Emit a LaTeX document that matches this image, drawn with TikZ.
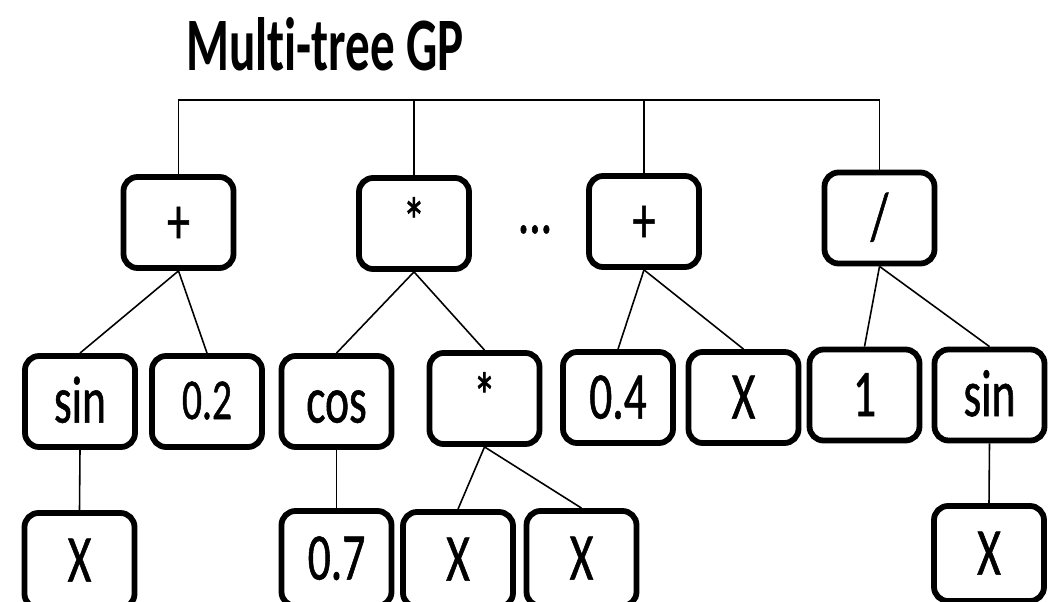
\documentclass[tikz,border=0pt]{standalone}
\usepackage{fontspec}
\usepackage{tikz}
\newfontfamily\gpfont[FakeStretch=0.68, FakeBold=0.8]{Carlito}
\newfontfamily\gptitlefont[FakeStretch=0.65, Ligatures=NoCommon]{Carlito}

\begin{document}
\begin{tikzpicture}[
  gpbox/.style={draw, line width=3.3pt, rounded corners=8pt,
    minimum width=2.2cm, minimum height=1.82cm, inner sep=0pt,
    font=\gpfont\fontsize{38}{40}\selectfont, text height=24pt, text depth=0pt},
  leafbox/.style={gpbox, minimum height=1.9cm},
  gpedge/.style={line width=0.9pt}]
\useasboundingbox (0,0) rectangle (20.96,12.04);
\clip (0,0) rectangle (20.96,12.04);
%% title
\node[anchor=base, font=\gptitlefont\bfseries\fontsize{43}{46}\selectfont] (title) at (6.5,10.62) {Multi-tree GP};
%% roots of the trees
\node[gpbox] (p1) at (3.57,7.59) {+};
\node[gpbox] (m1) at (8.28,7.57) {*};
\node[gpbox] (p2) at (12.88,7.61) {+};
\node[gpbox] (d1) at (17.59,7.68) {/};
\node[anchor=base, font=\gpfont\fontsize{38}{40}\selectfont] (dots) at (10.7,7.38) {...};
%% second level
\node[gpbox] (s1) at (1.60,4.01) {sin};
\node[gpbox, font=\gpfont\fontsize{33}{36}\selectfont, text height=20pt] (c02) at (4.14,4.01) {0.2};
\node[gpbox] (cs) at (6.73,4.01) {cos};
\node[gpbox] (m2) at (9.69,4.07) {*};
\node[gpbox] (c04) at (12.36,4.09) {0.4};
\node[gpbox] (x3) at (14.87,4.09) {X};
\node[gpbox] (one) at (17.29,4.14) {1};
\node[gpbox] (s2) at (19.79,4.14) {sin};
%% leaves
\node[leafbox] (x1) at (1.59,0.83) {X};
\node[leafbox] (c07) at (6.73,0.87) {0.7};
\node[leafbox] (x4) at (9.16,0.85) {X};
\node[leafbox] (x5) at (11.63,0.87) {X};
\node[leafbox] (x6) at (19.78,0.97) {X};
%% common bar
\coordinate (bar) at (0,10.04);
\draw[gpedge] (p1.north) -- (p1.north |- bar) -- (d1.north |- bar) -- (d1.north);
\draw[gpedge] (m1.north) -- (m1.north |- bar);
\draw[gpedge] (p2.north) -- (p2.north |- bar);
%% tree edges
\draw[gpedge] (p1.south) -- (s1.north);
\draw[gpedge] (p1.south) -- (c02.north);
\draw[gpedge] (s1.south) -- (x1.north);
\draw[gpedge] (m1.south) -- (cs.north);
\draw[gpedge] (m1.south) -- (m2.north);
\draw[gpedge] (cs.south) -- (c07.north);
\draw[gpedge] (m2.south) -- (x4.north);
\draw[gpedge] (m2.south) -- (x5.north);
\draw[gpedge] (p2.south) -- (c04.north);
\draw[gpedge] (p2.south) -- (x3.north);
\draw[gpedge] (d1.south) -- (one.north);
\draw[gpedge] (d1.south) -- (s2.north);
\draw[gpedge] (s2.south) -- (x6.north);
\end{tikzpicture}
\end{document}
